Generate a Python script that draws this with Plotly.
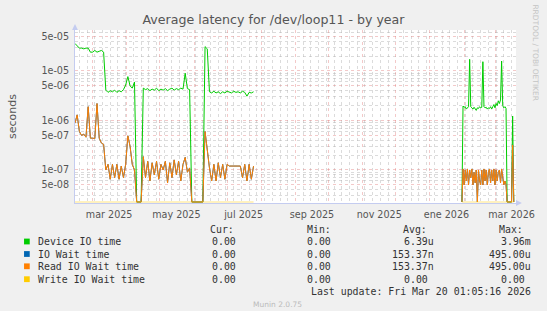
import plotly.graph_objects as go
import pandas as pd

# ---------------- data ----------------
P1_START, P1_STEP = "2025-02-13", "2D"   # first active period, 2-day samples
P2_START, P2_STEP = "2026-01-30", "1D"   # second active period, daily samples

device_p1 = [3.6e-5, 3.2e-5, 2.9e-5, 2.9e-5, 2.8e-5, 2.9e-5, 2.9e-5, 2.4e-5, 2.4e-5, 2.6e-5,
             2.4e-5, 2.5e-5, 2.6e-5, 2.4e-5, 4.1e-6, 3.7e-6, 4.0e-6, 3.8e-6, 4.1e-6, 3.7e-6,
             4.0e-6, 3.8e-6, 4.2e-6, 5.2e-6, 7.7e-6, 5.0e-6, 4.5e-6, 6.0e-6, 0, 0,
             0, 4.5e-6, 4.2e-6, 4.4e-6, 4.0e-6, 4.3e-6, 4.1e-6, 4.5e-6, 4.0e-6, 4.3e-6,
             4.1e-6, 4.4e-6, 4.0e-6, 4.3e-6, 4.5e-6, 4.1e-6, 4.4e-6, 4.2e-6, 4.5e-6, 4.3e-6,
             9.0e-6, 4.4e-6, 4.2e-6, 0, 0, 0, 0, 0, 0, 3.1e-5,
             2.8e-5, 3.8e-6, 3.6e-6, 3.9e-6, 3.6e-6, 3.8e-6, 3.5e-6, 3.8e-6, 3.6e-6, 3.9e-6,
             3.7e-6, 3.6e-6, 3.9e-6, 3.7e-6, 3.8e-6, 3.6e-6, 3.9e-6, 3.7e-6, 3.1e-6, 3.7e-6,
             3.6e-6, 3.8e-6]
iowait_p1 = [8.8e-7, 1.3e-6, 6.0e-7, 5.0e-7, 5.3e-7, 4.6e-7, 1.9e-6, 4.4e-7, 4.4e-7, 4.3e-7,
             2.2e-6, 4.4e-7, 3.5e-7, 3.3e-7, 1.0e-7, 1.3e-7, 6.5e-8, 1.3e-7, 7.0e-8, 1.3e-7,
             6.5e-8, 1.2e-7, 7.0e-8, 1.3e-7, 4.9e-7, 3.0e-7, 1.3e-7, 1.0e-7, 0, 0,
             0, 1.86e-7, 7.0e-8, 1.5e-7, 6.0e-8, 1.4e-7, 8.0e-8, 1.5e-7, 6.5e-8, 1.3e-7,
             1.0e-7, 1.5e-7, 5.5e-8, 1.4e-7, 7.0e-8, 1.6e-7, 8.0e-8, 1.5e-7, 6.0e-8, 1.3e-7,
             1.8e-7, 9.0e-8, 1.1e-7, 0, 0, 0, 0, 0, 0, 6.0e-7,
             2.5e-7, 1.1e-7, 6.0e-8, 1.3e-7, 6.0e-8, 1.4e-7, 7.0e-8, 1.3e-7, 6.5e-8, 1.3e-7,
             1.2e-7, 1.2e-7, 1.2e-7, 1.2e-7, 1.2e-7, 1.2e-7, 7.0e-8, 1.3e-7, 6.0e-8, 1.3e-7,
             6.5e-8, 1.2e-7]
device_p2 = [0, 1.96e-6, 1.85e-6, 1.9e-6, 1.7e-6, 1.8e-6, 1.9e-6, 1.72e-5, 1.9e-6, 1.8e-6,
             1.7e-6, 1.85e-6, 1.65e-6, 1.6e-6, 1.8e-6, 1.75e-6, 1.9e-6, 1.8e-6, 1.85e-6, 1.54e-5,
             1.9e-6, 1.8e-6, 1.85e-6, 1.7e-6, 1.8e-6, 1.75e-6, 1.9e-6, 1.7e-6, 1.9e-6, 2.1e-6,
             1.8e-6, 2.2e-6, 2.0e-6, 2.5e-6, 2.2e-6, 2.6e-6, 1.59e-5, 2.0e-6, 1.8e-6, 1.9e-6,
             1.75e-6, 0, 0, 0, 0, 0, 1.23e-6, 0]
iowait_p2 = [0, 1.05e-7, 5.0e-8, 1.0e-7, 6.0e-8, 1.05e-7, 5.0e-8, 1.0e-7, 7.0e-8, 1.05e-7,
             5.0e-8, 9.0e-8, 5.5e-8, 1.0e-7, 0, 1.0e-7, 6.0e-8, 5.0e-8, 1.0e-7, 5.0e-8,
             1.05e-7, 6.0e-8, 1.0e-7, 5.0e-8, 9.0e-8, 1.05e-7, 5.5e-8, 1.0e-7, 6.0e-8, 1.05e-7,
             5.0e-8, 1.0e-7, 6.0e-8, 9.0e-8, 1.0e-7, 5.5e-8, 1.05e-7, 6.0e-8, 5.0e-8, 6.0e-8,
             5.0e-8, 0, 0, 0, 0, 0, 3.2e-7, 0]

series_names = ["Device IO time", "IO Wait time", "Read IO Wait time", "Write IO Wait time"]
series_colors = ["#00CC00", "#0066B3", "#FF8000", "#FFCC00"]
cur_vals = ["0.00", "0.00", "0.00", "0.00"]
min_vals = ["0.00", "0.00", "0.00", "0.00"]
avg_vals = ["6.39u", "153.37n", "153.37n", "0.00"]
max_vals = ["3.96m", "495.00u", "495.00u", "0.00"]

x_labels = ["mar 2025", "may 2025", "jul 2025", "sep 2025", "nov 2025", "ene 2026", "mar 2026"]
x_label_dates = ["2025-03-16", "2025-05-16", "2025-07-16", "2025-09-16", "2025-11-16", "2026-01-16", "2026-03-16"]
y_tick_vals = [5e-8, 1e-7, 5e-7, 1e-6, 5e-6, 1e-5, 5e-5]
y_tick_text = ["5e-08", "1e-07", "5e-07", "1e-06", "5e-06", "1e-05", "5e-05"]

X_RANGE = ["2025-02-13 01:05:16", "2026-03-20 01:05:16"]
Y_RANGE = [-7.667, -4.172]
FLOOR = 10 ** -7.647   # zero values sit just on the bottom edge of the log axis

# ---------------- build ----------------
d1 = list(pd.date_range(P1_START, periods=len(device_p1), freq=P1_STEP))
d2 = list(pd.date_range(P2_START, periods=len(device_p2), freq=P2_STEP))
gap = [pd.Timestamp("2025-10-15")]
dates = d1 + gap + d2

def prep(p1, p2):
    return [max(v, FLOOR) for v in p1] + [None] + [max(v, FLOOR) for v in p2]

device = prep(device_p1, device_p2)
iowait = prep(iowait_p1, iowait_p2)
readw = prep(iowait_p1, iowait_p2)
writew = prep([0] * len(device_p1), [0] * len(device_p2))

W, H = 547, 311
L, R, T, B = 66, 31, 30, 108
PW, PH = W - L - R, H - T - B

def px(x):
    return (x - L) / PW

def py(y):
    return (H - B - y) / PH

fig = go.Figure()
for vals, name, col in zip([device, iowait, readw, writew], series_names, series_colors):
    fig.add_trace(go.Scatter(x=dates, y=vals, mode="lines", name=name,
                             line=dict(color=col, width=1), connectgaps=False,
                             opacity=0.5 if name.startswith("Write") else 1,
                             hoverinfo="skip", showlegend=False))
fig.add_trace(go.Scatter(x=[x_label_dates[0]], y=[1e-6], xaxis="x2", mode="markers",
                         marker=dict(opacity=0), hoverinfo="skip", showlegend=False))

TXT = "#555555"
AX = "#C4CCF0"
MAJ = "rgba(225,120,120,0.40)"
MIN = "rgba(175,175,175,0.45)"
fig.update_layout(
    width=W, height=H, margin=dict(l=L, r=R, t=T, b=B),
    paper_bgcolor="#F0F0F0", plot_bgcolor="#FFFFFF",
    font=dict(family="DejaVu Sans", color=TXT, size=10),
    title=dict(text="Average latency for /dev/loop11 - by year", x=0.5, xanchor="center",
               y=1 - 20 / H, yanchor="middle", font=dict(size=12.6, color=TXT)),
    xaxis=dict(type="date", range=X_RANGE, showticklabels=False, ticks="",
               tick0="2025-01-01", dtick="M1", showgrid=True,
               gridcolor=MAJ, griddash="dot", gridwidth=1,
               minor=dict(dtick=7 * 86400000, tick0="2025-01-06", showgrid=True,
                          gridcolor=MIN, griddash="dot", gridwidth=1),
               showline=True, linecolor=AX, linewidth=1, zeroline=False),
    xaxis2=dict(type="date", range=X_RANGE, overlaying="x", side="bottom", anchor="y",
                tickmode="array", tickvals=x_label_dates, ticktext=x_labels,
                showgrid=False, ticks="outside", ticklen=2, tickcolor="rgba(0,0,0,0)",
                tickfont=dict(size=9.6, color=TXT), showline=False, zeroline=False),
    yaxis=dict(type="log", range=Y_RANGE, tickmode="array", tickvals=y_tick_vals,
               ticktext=y_tick_text, tickfont=dict(size=9.6, color=TXT),
               ticks="outside", ticklen=3, tickcolor="rgba(0,0,0,0)",
               showgrid=True, gridcolor=MAJ, griddash="dot",
               minor=dict(tickvals=[m * 10 ** e for e in range(-9, -3) for m in (2, 3, 4, 6, 7, 8, 9)],
                          showgrid=True, gridcolor=MIN, griddash="dot"),
               showline=True, linecolor=AX, linewidth=1, zeroline=False,
               title=dict(text="seconds", font=dict(size=11, color=TXT), standoff=22)),
)

# axis arrows
fig.add_shape(type="path", xref="paper", yref="paper",
              path=f"M {px(516)} {py(200)} L {px(522)} {py(203)} L {px(516)} {py(206)} Z",
              fillcolor=AX, line=dict(color=AX, width=0))
fig.add_shape(type="path", xref="paper", yref="paper",
              path=f"M {px(63)} {py(30)} L {px(66)} {py(24)} L {px(69)} {py(30)} Z",
              fillcolor=AX, line=dict(color=AX, width=0))

MONO = "DejaVu Sans Mono"
LEG = "#333333"
FS = 9.9

def ann(text, x, y, anchor="left", size=FS, color=LEG, family=MONO, angle=0):
    fig.add_annotation(text=text, xref="paper", yref="paper", x=px(x), y=py(y),
                       xanchor=anchor, yanchor="middle", showarrow=False, textangle=angle,
                       font=dict(family=family, size=size, color=color))

for hdr, hx in zip(["Cur:", "Min:", "Avg:", "Max:"], [202, 301, 399, 496.5]):
    ann(hdr, hx, 229)

row_y = [241.5, 254, 266.3, 279.2]
for i, (name, col) in enumerate(zip(series_names, series_colors)):
    y = row_y[i]
    fig.add_shape(type="rect", xref="paper", yref="paper",
                  x0=px(14), x1=px(19.8), y0=py(y - 2.9), y1=py(y + 2.9),
                  fillcolor=col, line=dict(width=0))
    ann(name, 26, y)
    ann(cur_vals[i], 232, y, "right")
    ann(min_vals[i], 329.7, y, "right")
    ann(avg_vals[i], 434.4 if avg_vals[i][-1].isalpha() else 428.5, y, "right")
    ann(max_vals[i], 533 if max_vals[i][-1].isalpha() else 527, y, "right")

ann("Last update: Fri Mar 20 01:05:16 2026", 533, 291.8, "right")
ann("Munin 2.0.75", 273, 304.7, "center", size=7.5, color="#BBBBBB", family="DejaVu Sans")
ann("RRDTOOL / TOBI OETIKER", 536, 53, "center", size=7.5, color="#C4C4C4",
    family="DejaVu Sans", angle=90)

fig.write_html("out.html")
